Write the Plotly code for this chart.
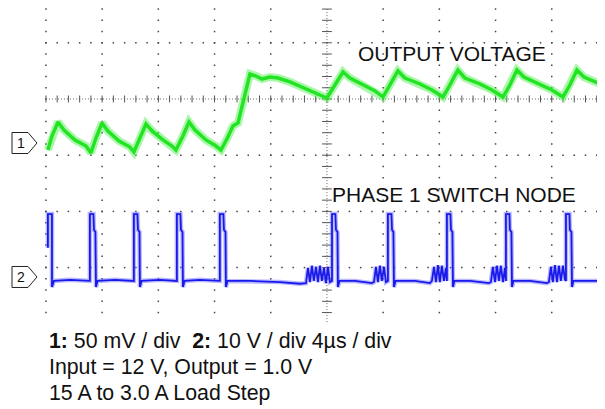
import numpy as np
import plotly.graph_objects as go

# ---------------- data ----------------
# Channel 1: output voltage, time in microseconds, deviation in mV (50 mV/div)
ch1_time_us = [
    -19.86, -19.57, -19.14, -18.72, -17.93, -17.15, -16.80,
    -16.44, -16.01, -15.59, -14.80, -14.02, -13.74,
    -13.31, -12.88, -12.45, -11.67, -11.03, -10.75,
    -10.25, -9.82, -9.39, -8.61, -7.90, -7.54,
    -7.05, -6.69, -6.33, -5.91, -5.48, -5.05, -4.63, -4.06, -3.49, -2.63, -1.92, -1.07, -0.50, 0.00,
    0.57, 1.14, 1.64, 2.70, 3.42, 3.99,
    4.48, 5.05, 5.55, 6.62, 7.47, 8.26,
    8.75, 9.32, 9.82, 10.89, 11.74, 12.53,
    13.02, 13.52, 14.02, 15.16, 16.01, 16.80,
    17.29, 17.79, 18.29, 19.43, 19.79,
]
ch1_mV = [
    -6.2, 6.2, 18.7, 11.6, 2.7, -2.7, -8.9,
    4.4, 17.8, 10.7, 1.8, -3.6, -8.0,
    4.4, 16.9, 10.7, 2.7, -2.7, -6.2,
    6.2, 18.7, 11.6, 2.7, -2.7, -6.2,
    5.3, 15.1, 17.8, 38.3, 61.4, 59.6, 56.9, 58.7, 57.8, 54.3, 50.7, 46.3, 42.7, 40.0,
    51.6, 63.2, 57.8, 50.7, 46.3, 40.9,
    51.6, 64.1, 57.8, 52.5, 47.2, 40.9,
    51.6, 64.9, 57.8, 52.5, 47.2, 40.9,
    51.6, 64.9, 58.7, 52.5, 47.2, 40.9,
    51.6, 64.9, 58.7, 52.5, 50.7,
]

# Channel 2: phase 1 switch node, time in microseconds, volts (10 V/div)
ch2_time_us = [
    -19.86, -19.86, -19.57, -19.57, -19.43, -18.29,
    -16.87, -16.87, -16.62, -16.58, -16.48, -16.44, -16.33, -15.09,
    -13.74, -13.74, -13.49, -13.45, -13.34, -13.31, -13.20, -11.89,
    -10.68, -10.68, -10.43, -10.39, -10.28, -10.25, -10.14, -9.04,
    -7.62, -7.62, -7.37, -7.33, -7.22, -7.19, -7.08,
    -5.48, -3.35, -1.92, -1.49,
    -1.35, -1.21, -1.07, -0.93, -0.78, -0.64, -0.50, -0.36, -0.21, -0.07, 0.07, 0.21,
    0.36, 0.36, 0.60, 0.64, 0.75, 0.78, 0.89,
    1.99, 3.20,
    3.35, 3.49, 3.63, 3.77, 3.91, 4.06, 4.20,
    4.34, 4.34, 4.59, 4.63, 4.73, 4.77, 4.88,
    6.26, 7.33,
    7.47, 7.62, 7.76, 7.90, 8.04, 8.18, 8.33, 8.47,
    8.54, 8.54, 8.79, 8.83, 8.93, 8.97, 9.07,
    10.18, 11.53,
    11.67, 11.81, 11.96, 12.10, 12.24, 12.38, 12.53, 12.67,
    12.74, 12.74, 12.99, 13.02, 13.13, 13.17, 13.27,
    14.45, 15.66,
    15.80, 15.94, 16.08, 16.23, 16.37, 16.51, 16.65, 16.80, 16.94,
    17.01, 17.01, 17.26, 17.29, 17.40, 17.44, 17.54,
    18.72, 19.79,
]
ch2_V = [
    5.2, 11.2, 11.2, -1.8, -0.7, -0.5,
    -0.7, 11.2, 11.2, 8.4, 8.0, -1.8, -0.7, -0.5,
    -0.7, 11.2, 11.2, 8.4, 8.0, -1.8, -0.7, -0.5,
    -0.7, 11.2, 11.2, 8.4, 8.0, -1.8, -0.7, -0.5,
    -0.7, 11.2, 11.2, 8.4, 8.0, -1.8, -0.7,
    -0.7, -0.9, -1.2, -1.1,
    1.6, -0.9, 2.0, -0.7, 1.8, -0.9, 2.0, -0.7, 1.6, -1.1, 1.8, -0.9,
    -0.7, 11.2, 11.2, 8.4, 8.0, -1.8, -0.7,
    -0.7, -1.1,
    -0.9, 1.8, -0.9, 2.0, -0.7, 1.8, -0.9,
    -0.7, 11.2, 11.2, 8.4, 8.0, -1.8, -0.7,
    -0.7, -1.1,
    -0.7, 1.8, -0.9, 2.1, -0.9, 2.0, -0.7, 1.6,
    -0.7, 11.2, 11.2, 8.4, 8.0, -1.8, -0.7,
    -0.7, -1.1,
    -0.9, 1.8, -0.9, 2.0, -0.7, 2.0, -0.9, 1.6,
    -0.7, 11.2, 11.2, 8.4, 8.0, -1.8, -0.7,
    -0.7, -1.1,
    -0.9, 1.8, -0.9, 2.1, -0.9, 2.0, -0.7, 2.0, -0.5,
    -0.7, 11.2, 11.2, 8.4, 8.0, -1.8, -0.7,
    -0.7, -0.7,
]

# scope settings
CH1_SCALE_MV = 50.0     # mV / div
CH2_SCALE_V = 10.0      # V / div
TIME_SCALE_US = 4.0     # us / div
CH1_POS_DIV = -0.783    # channel reference markers (screen divisions)
CH2_POS_DIV = -3.167

label_line1 = "<b>1:</b>\u00a050 mV / div \u00a0<b>2:</b> 10 V / div 4\u00b5s / div"
label_line2 = "Input = 12 V, Output = 1.0 V"
label_line3 = "15 A to 3.0 A Load Step"
title_ch1 = "OUTPUT VOLTAGE"
title_ch2 = "PHASE 1 SWITCH NODE"

# ---------------- figure ----------------
# the page body keeps its default 8 px margin, so the figure is 8 px smaller
PAGE_PAD = 8
W, H = 605 - PAGE_PAD, 409 - PAGE_PAD
X_RANGE = [-22.70, 19.79]
Y_RANGE = [-5.516, 1.619]
FONT = "Liberation Sans, Arial, Helvetica, sans-serif"


def px(x):      # reference-page pixel -> paper x
    return (x - PAGE_PAD) / W


def py(y):      # reference-page pixel -> paper y
    return 1 - (y - PAGE_PAD) / H


fig = go.Figure()

# graticule dots
gx, gy = [], []
yy = np.arange(-3.8, 1.81, 0.2)
for k in range(-5, 5):
    if k == 0:
        continue
    gx += [k * TIME_SCALE_US] * len(yy)
    gy += list(yy)
xx = np.arange(-5, 5, 0.2) * TIME_SCALE_US
for j in [1, -1, -2, -3]:
    gx += list(xx)
    gy += [j] * len(xx)
fig.add_trace(go.Scatter(x=gx, y=gy, mode="markers", hoverinfo="skip",
                         marker=dict(symbol="square", size=1.5, color="#444444",
                                     line=dict(width=0))))

# centre cross lines (dense dotted) with minor ticks
fig.add_shape(type="line", x0=-5 * TIME_SCALE_US, x1=X_RANGE[1], y0=0, y1=0,
              line=dict(color="#666666", width=1, dash="1px,2px"), layer="below")
fig.add_shape(type="line", x0=0, x1=0, y0=-3.97, y1=Y_RANGE[1],
              line=dict(color="#666666", width=1, dash="1px,2px"), layer="below")
fig.add_trace(go.Scatter(x=list(xx), y=[0] * len(xx), mode="markers", hoverinfo="skip",
                         marker=dict(symbol="line-ns", size=5,
                                     line=dict(width=1, color="#555555"))))
fig.add_trace(go.Scatter(x=[0] * len(yy), y=list(yy), mode="markers", hoverinfo="skip",
                         marker=dict(symbol="line-ew", size=7,
                                     line=dict(width=1, color="#555555"))))

# channel 2 (blue)
ch2_y = [v / CH2_SCALE_V + CH2_POS_DIV for v in ch2_V]
fig.add_trace(go.Scatter(x=ch2_time_us, y=ch2_y, mode="lines", hoverinfo="skip",
                         line=dict(color="rgba(100,100,255,0.45)", width=4.5)))
fig.add_trace(go.Scatter(x=ch2_time_us, y=ch2_y, mode="lines", hoverinfo="skip",
                         line=dict(color="rgb(25,25,235)", width=1.8)))

# channel 1 (green)
ch1_y = [v / CH1_SCALE_MV + CH1_POS_DIV for v in ch1_mV]
fig.add_trace(go.Scatter(x=ch1_time_us, y=ch1_y, mode="lines", hoverinfo="skip",
                         line=dict(color="rgba(90,240,90,0.5)", width=8)))
fig.add_trace(go.Scatter(x=ch1_time_us, y=ch1_y, mode="lines", hoverinfo="skip",
                         line=dict(color="rgb(35,228,35)", width=3.5)))

# channel reference markers
def marker_path(ypos):
    h = 10.5 / (H / (Y_RANGE[1] - Y_RANGE[0]))
    x0, x1, x2 = px(12), px(28), px(37)
    return (f"M{x0},{ypos + h} L{x1},{ypos + h} L{x2},{ypos} "
            f"L{x1},{ypos - h} L{x0},{ypos - h} Z")


for name, pos in [("1", CH1_POS_DIV), ("2", CH2_POS_DIV)]:
    fig.add_shape(type="path", xref="paper", yref="y", path=marker_path(pos),
                  line=dict(color="#222222", width=1), fillcolor="white")
    fig.add_annotation(xref="paper", yref="y", x=px(21), y=pos, text=name,
                       showarrow=False, xanchor="center", yanchor="middle",
                       font=dict(family=FONT, size=14, color="#111111"))

# trace titles
fig.add_annotation(xref="paper", yref="paper", x=px(356), y=py(54), text=title_ch1,
                   showarrow=False, xanchor="left", yanchor="middle",
                   font=dict(family=FONT, size=21, color="#111111"))
fig.add_annotation(xref="paper", yref="paper", x=px(330), y=py(194.5), text=title_ch2,
                   showarrow=False, xanchor="left", yanchor="middle",
                   font=dict(family=FONT, size=21, color="#111111"))

# bottom legend text
for txt, yc in [(label_line1, 341), (label_line2, 367), (label_line3, 393)]:
    fig.add_annotation(xref="paper", yref="paper", x=px(47), y=py(yc), text=txt,
                       showarrow=False, xanchor="left", yanchor="middle",
                       font=dict(family=FONT, size=21.3, color="#111111"))

fig.update_layout(
    width=W, height=H, margin=dict(l=0, r=0, t=0, b=0),
    paper_bgcolor="white", plot_bgcolor="white", showlegend=False,
    xaxis=dict(range=X_RANGE, visible=False, fixedrange=True),
    yaxis=dict(range=Y_RANGE, visible=False, fixedrange=True),
)
fig.write_html("out.html")
